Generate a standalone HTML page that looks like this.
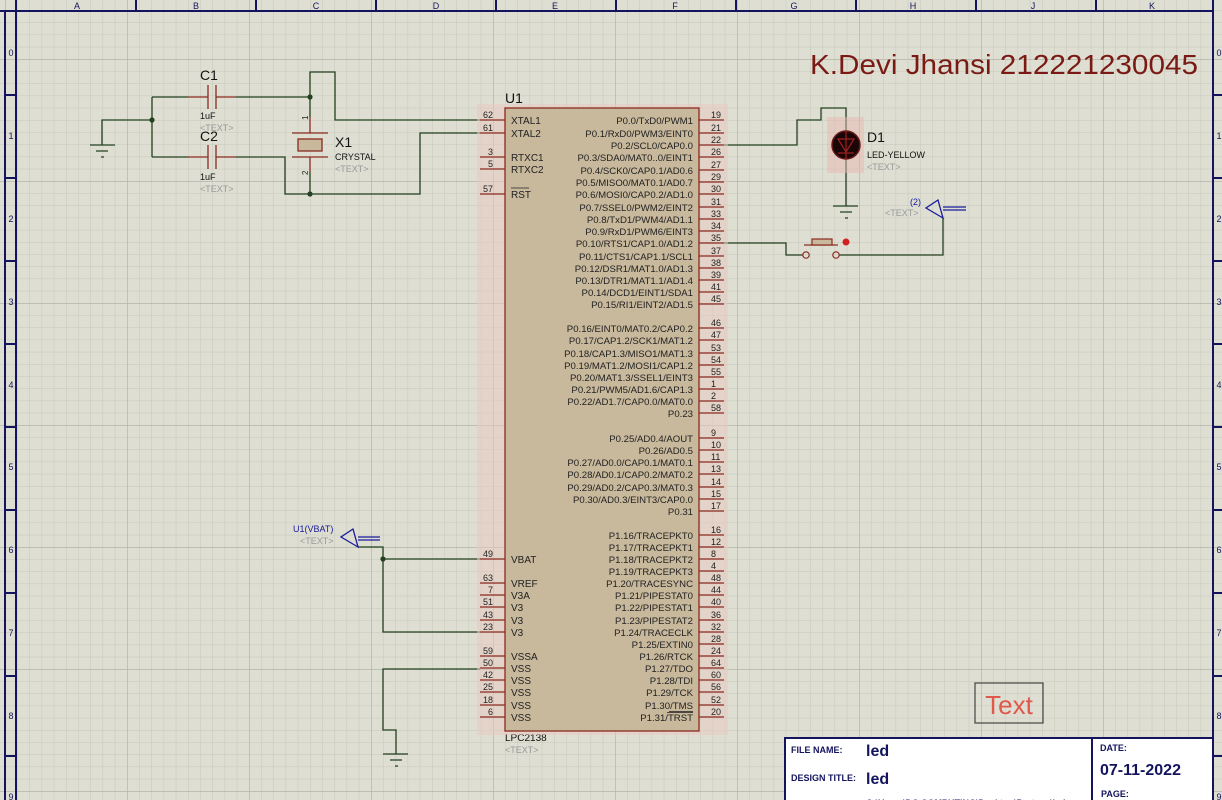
<!DOCTYPE html>
<html><head><meta charset="utf-8"><style>
html,body{margin:0;padding:0;background:#dedfd2;}
svg{display:block;font-family:"Liberation Sans",Arial,sans-serif;}
</style></head><body>
<svg width="1222" height="800" viewBox="0 0 1222 800" xmlns="http://www.w3.org/2000/svg">
<defs>
<pattern id="gmin" x="5" y="10.2" width="12.2" height="12.2" patternUnits="userSpaceOnUse">
<path d="M0 0H12.2M0 0V12.2" stroke="#c6c7bb" stroke-width="1" fill="none"/>
</pattern>
<pattern id="gmaj" x="5" y="59" width="122" height="122" patternUnits="userSpaceOnUse">
<path d="M0 0H122M0 0V122" stroke="#b4b5a9" stroke-width="1.4" fill="none"/>
</pattern>
</defs>
<rect width="1222" height="800" fill="#dedfd2"/>
<rect width="1222" height="800" fill="url(#gmin)"/>
<rect width="1222" height="800" fill="url(#gmaj)"/>

<!-- frame -->
<g stroke="#14145e" stroke-width="2" fill="none">
<line x1="0" y1="11" x2="1214" y2="11"/>
<line x1="5" y1="11" x2="5" y2="800"/>
<line x1="16" y1="11" x2="16" y2="800"/>
<line x1="1213" y1="0" x2="1213" y2="800"/>
<line x1="16" y1="0" x2="16" y2="11"/><line x1="136" y1="0" x2="136" y2="11"/><line x1="256" y1="0" x2="256" y2="11"/><line x1="376" y1="0" x2="376" y2="11"/><line x1="496" y1="0" x2="496" y2="11"/><line x1="616" y1="0" x2="616" y2="11"/><line x1="736" y1="0" x2="736" y2="11"/><line x1="856" y1="0" x2="856" y2="11"/><line x1="976" y1="0" x2="976" y2="11"/><line x1="1096" y1="0" x2="1096" y2="11"/>
<path d="M5 95H16M5 178H16M5 261H16M5 344H16M5 427H16M5 510H16M5 593H16M5 676H16M5 756H16"/>
<path d="M1213 95H1222M1213 178H1222M1213 261H1222M1213 344H1222M1213 427H1222M1213 510H1222M1213 593H1222M1213 676H1222M1213 756H1222"/>
</g>
<g fill="#14145e" font-size="9" text-anchor="middle">
<text x="77" y="9">A</text><text x="196" y="9">B</text><text x="316" y="9">C</text><text x="436" y="9">D</text><text x="555" y="9">E</text><text x="675" y="9">F</text><text x="794" y="9">G</text><text x="913" y="9">H</text><text x="1033" y="9">J</text><text x="1152" y="9">K</text>
<text x="11" y="56">0</text><text x="11" y="139">1</text><text x="11" y="222">2</text><text x="11" y="305">3</text><text x="11" y="388">4</text><text x="11" y="470">5</text><text x="11" y="553">6</text><text x="11" y="636">7</text><text x="11" y="719">8</text><text x="11" y="800">9</text>
<text x="1219" y="56">0</text><text x="1219" y="139">1</text><text x="1219" y="222">2</text><text x="1219" y="305">3</text><text x="1219" y="388">4</text><text x="1219" y="470">5</text><text x="1219" y="553">6</text><text x="1219" y="636">7</text><text x="1219" y="719">8</text><text x="1219" y="800">9</text>
</g>

<!-- title -->
<text x="810" y="74" font-size="28" fill="#7a1a14" textLength="388" lengthAdjust="spacingAndGlyphs">K.Devi Jhansi 212221230045</text>

<!-- wires -->
<g stroke="#234020" stroke-width="1.3" fill="none">
<path d="M102 145V120H152"/>
<path d="M152 97V157"/>
<path d="M152 97H188M236 97H310"/>
<path d="M152 157H188M236 157H285V194H420V133H480"/>
<path d="M310 97V72H335V120H480"/>
<path d="M310 97V117M310 172V194"/>
<path d="M724 145H797V120H821V108H846V131M846 159V206"/>
<path d="M724 243H786V255H803M839 255H943V218"/>
<path d="M358 547H383V632H480M383 559H480"/>
<path d="M480 669H383V730H396V754"/>
</g>
<g fill="#234020">
<circle cx="152" cy="120" r="2.6"/><circle cx="310" cy="97" r="2.6"/><circle cx="310" cy="194" r="2.6"/><circle cx="383" cy="559" r="2.6"/>
</g>
<!-- grounds -->
<g stroke="#234020" stroke-width="1.3">
<path d="M90 145H115M96 151H108M101 157H104"/>
<path d="M833 206H858M840 212H852M845 218H848"/>
<path d="M383 754H408M390 760H402M395 766H398"/>
</g>

<!-- capacitors -->
<g stroke="#8b2a20" stroke-width="1.3" fill="none">
<path d="M188 97H208M208 85V109M216 85V109M216 97H236"/>
<path d="M188 157H208M208 145V169M216 145V169M216 157H236"/>
<path d="M310 117V133M292 133H328M292 157H328M310 157V172"/>
</g>
<rect x="298" y="139" width="24" height="12" fill="#c8b89c" stroke="#8b2a20" stroke-width="1.3"/>
<g font-size="8" fill="#222"><text transform="translate(308,120) rotate(-90)">1</text><text transform="translate(308,175) rotate(-90)">2</text></g>
<g fill="#111">
<text x="200" y="80" font-size="14">C1</text><text x="200" y="119" font-size="9">1uF</text>
<text x="200" y="141" font-size="14">C2</text><text x="200" y="180" font-size="9">1uF</text>
<text x="335" y="147" font-size="14">X1</text><text x="335" y="160" font-size="9">CRYSTAL</text>
<text x="867" y="142" font-size="14">D1</text><text x="867" y="158" font-size="9">LED-YELLOW</text>
<text x="505" y="103" font-size="14">U1</text><text x="505" y="741" font-size="10">LPC2138</text>
</g>
<g fill="#999" font-size="9">
<text x="200" y="131">&lt;TEXT&gt;</text><text x="200" y="192">&lt;TEXT&gt;</text><text x="335" y="172">&lt;TEXT&gt;</text>
<text x="867" y="170">&lt;TEXT&gt;</text><text x="885" y="216">&lt;TEXT&gt;</text><text x="300" y="544">&lt;TEXT&gt;</text><text x="505" y="753">&lt;TEXT&gt;</text>
</g>

<!-- LED -->
<rect x="827" y="117" width="37" height="56" fill="#e8b8b0" opacity="0.5"/>
<circle cx="846" cy="145" r="14" fill="#1a0606" stroke="#6a1a1a" stroke-width="1.5"/>
<path d="M838 139H854L846 152Z M838 153H854 M846 131V159" stroke="#a02020" stroke-width="1.2" fill="none"/>

<!-- switch -->
<g stroke="#8b2a20" stroke-width="1.2" fill="none">
<circle cx="806" cy="255" r="3.2"/><circle cx="836" cy="255" r="3.2"/>
<path d="M804 245H838"/><rect x="812" y="239" width="20" height="6" fill="#c8b89c"/>
</g>
<circle cx="846" cy="242" r="3.5" fill="#d02020"/>

<!-- terminals -->
<g stroke="#1a1a9a" stroke-width="1.3" fill="none">
<path d="M943 218L926 208L938 200Z M943 207H966M943 210H966"/>
<path d="M358 547L341 537L353 529Z M358 537H380M358 540H380"/>
</g>
<text x="910" y="205" font-size="9" fill="#1a1a9a">(2)</text>
<text x="293" y="532" font-size="9" fill="#1a1a9a">U1(VBAT)</text>

<!-- chip -->
<rect x="477" y="104" width="251" height="631" fill="#e8c8c0" opacity="0.55"/>
<rect x="505" y="108" width="194" height="623" fill="#c8b89c" stroke="#8b2a20" stroke-width="1.3"/>
<g stroke="#8b2a20" stroke-width="1.2">
<path d="M480 120H505M480 133H505M480 157H505M480 169H505M480 194H505M480 559H505M480 583H505M480 595H505M480 607H505M480 620H505M480 632H505M480 656H505M480 668H505M480 680H505M480 692H505M480 705H505M480 717H505"/>
<path d="M699 120H724M699 133H724M699 145H724M699 157H724M699 170H724M699 182H724M699 194H724M699 207H724M699 219H724M699 231H724M699 243H724M699 256H724M699 268H724M699 280H724M699 292H724M699 304H724"/>
<path d="M699 328H724M699 340H724M699 353H724M699 365H724M699 377H724M699 389H724M699 401H724M699 413H724"/>
<path d="M699 438H724M699 450H724M699 462H724M699 474H724M699 487H724M699 499H724M699 511H724"/>
<path d="M699 535H724M699 547H724M699 559H724M699 571H724M699 583H724M699 595H724M699 607H724M699 620H724M699 632H724M699 644H724M699 656H724M699 668H724M699 680H724M699 692H724M699 705H724M699 717H724"/>
</g>
<g font-size="10" fill="#222">
<text x="511" y="124">XTAL1</text><text x="511" y="137">XTAL2</text><text x="511" y="161">RTXC1</text><text x="511" y="173">RTXC2</text><text x="511" y="198">RST</text>
<text x="511" y="563">VBAT</text><text x="511" y="587">VREF</text><text x="511" y="599">V3A</text><text x="511" y="611">V3</text><text x="511" y="624">V3</text><text x="511" y="636">V3</text>
<text x="511" y="660">VSSA</text><text x="511" y="672">VSS</text><text x="511" y="684">VSS</text><text x="511" y="696">VSS</text><text x="511" y="709">VSS</text><text x="511" y="721">VSS</text>
</g>
<path d="M511 188H529" stroke="#222" stroke-width="0.8"/>
<g font-size="9" fill="#222" text-anchor="end">
<text x="493" y="118">62</text><text x="493" y="131">61</text><text x="493" y="155">3</text><text x="493" y="167">5</text><text x="493" y="192">57</text>
<text x="493" y="557">49</text><text x="493" y="581">63</text><text x="493" y="593">7</text><text x="493" y="605">51</text><text x="493" y="618">43</text><text x="493" y="630">23</text>
<text x="493" y="654">59</text><text x="493" y="666">50</text><text x="493" y="678">42</text><text x="493" y="690">25</text><text x="493" y="703">18</text><text x="493" y="715">6</text>
</g>
<g font-size="9.6" fill="#222" text-anchor="end">
<text x="693" y="124">P0.0/TxD0/PWM1</text><text x="693" y="137">P0.1/RxD0/PWM3/EINT0</text><text x="693" y="149">P0.2/SCL0/CAP0.0</text><text x="693" y="161">P0.3/SDA0/MAT0..0/EINT1</text><text x="693" y="174">P0.4/SCK0/CAP0.1/AD0.6</text><text x="693" y="186">P0.5/MISO0/MAT0.1/AD0.7</text><text x="693" y="198">P0.6/MOSI0/CAP0.2/AD1.0</text><text x="693" y="211">P0.7/SSEL0/PWM2/EINT2</text><text x="693" y="223">P0.8/TxD1/PWM4/AD1.1</text><text x="693" y="235">P0.9/RxD1/PWM6/EINT3</text><text x="693" y="247">P0.10/RTS1/CAP1.0/AD1.2</text><text x="693" y="260">P0.11/CTS1/CAP1.1/SCL1</text><text x="693" y="272">P0.12/DSR1/MAT1.0/AD1.3</text><text x="693" y="284">P0.13/DTR1/MAT1.1/AD1.4</text><text x="693" y="296">P0.14/DCD1/EINT1/SDA1</text><text x="693" y="308">P0.15/RI1/EINT2/AD1.5</text>
<text x="693" y="332">P0.16/EINT0/MAT0.2/CAP0.2</text><text x="693" y="344">P0.17/CAP1.2/SCK1/MAT1.2</text><text x="693" y="357">P0.18/CAP1.3/MISO1/MAT1.3</text><text x="693" y="369">P0.19/MAT1.2/MOSI1/CAP1.2</text><text x="693" y="381">P0.20/MAT1.3/SSEL1/EINT3</text><text x="693" y="393">P0.21/PWM5/AD1.6/CAP1.3</text><text x="693" y="405">P0.22/AD1.7/CAP0.0/MAT0.0</text><text x="693" y="417">P0.23</text>
<text x="693" y="442">P0.25/AD0.4/AOUT</text><text x="693" y="454">P0.26/AD0.5</text><text x="693" y="466">P0.27/AD0.0/CAP0.1/MAT0.1</text><text x="693" y="478">P0.28/AD0.1/CAP0.2/MAT0.2</text><text x="693" y="491">P0.29/AD0.2/CAP0.3/MAT0.3</text><text x="693" y="503">P0.30/AD0.3/EINT3/CAP0.0</text><text x="693" y="515">P0.31</text>
<text x="693" y="539">P1.16/TRACEPKT0</text><text x="693" y="551">P1.17/TRACEPKT1</text><text x="693" y="563">P1.18/TRACEPKT2</text><text x="693" y="575">P1.19/TRACEPKT3</text><text x="693" y="587">P1.20/TRACESYNC</text><text x="693" y="599">P1.21/PIPESTAT0</text><text x="693" y="611">P1.22/PIPESTAT1</text><text x="693" y="624">P1.23/PIPESTAT2</text><text x="693" y="636">P1.24/TRACECLK</text><text x="693" y="648">P1.25/EXTIN0</text><text x="693" y="660">P1.26/RTCK</text><text x="693" y="672">P1.27/TDO</text><text x="693" y="684">P1.28/TDI</text><text x="693" y="696">P1.29/TCK</text><text x="693" y="709">P1.30/TMS</text><text x="693" y="721">P1.31/TRST</text>
</g>
<path d="M669 711.5H693M667 712.5H693" stroke="#222" stroke-width="0.8"/>
<g font-size="9" fill="#222">
<text x="711" y="118">19</text><text x="711" y="131">21</text><text x="711" y="143">22</text><text x="711" y="155">26</text><text x="711" y="168">27</text><text x="711" y="180">29</text><text x="711" y="192">30</text><text x="711" y="205">31</text><text x="711" y="217">33</text><text x="711" y="229">34</text><text x="711" y="241">35</text><text x="711" y="254">37</text><text x="711" y="266">38</text><text x="711" y="278">39</text><text x="711" y="290">41</text><text x="711" y="302">45</text>
<text x="711" y="326">46</text><text x="711" y="338">47</text><text x="711" y="351">53</text><text x="711" y="363">54</text><text x="711" y="375">55</text><text x="711" y="387">1</text><text x="711" y="399">2</text><text x="711" y="411">58</text>
<text x="711" y="436">9</text><text x="711" y="448">10</text><text x="711" y="460">11</text><text x="711" y="472">13</text><text x="711" y="485">14</text><text x="711" y="497">15</text><text x="711" y="509">17</text>
<text x="711" y="533">16</text><text x="711" y="545">12</text><text x="711" y="557">8</text><text x="711" y="569">4</text><text x="711" y="581">48</text><text x="711" y="593">44</text><text x="711" y="605">40</text><text x="711" y="618">36</text><text x="711" y="630">32</text><text x="711" y="642">28</text><text x="711" y="654">24</text><text x="711" y="666">64</text><text x="711" y="678">60</text><text x="711" y="690">56</text><text x="711" y="703">52</text><text x="711" y="715">20</text>
</g>

<!-- Text box -->
<rect x="975" y="683" width="68" height="40" fill="none" stroke="#444" stroke-width="1.2"/>
<text x="1009" y="714" font-size="26" fill="#e0584c" text-anchor="middle">Text</text>

<!-- title block -->
<rect x="785" y="738" width="428" height="70" fill="#ffffff" stroke="#14145e" stroke-width="2"/>
<line x1="1092" y1="738" x2="1092" y2="800" stroke="#14145e" stroke-width="2"/>
<g fill="#14145e" font-weight="bold">
<text x="791" y="753" font-size="9">FILE NAME:</text>
<text x="866" y="756" font-size="16">led</text>
<text x="791" y="781" font-size="9">DESIGN TITLE:</text>
<text x="866" y="784" font-size="16">led</text>
<text x="1100" y="751" font-size="9">DATE:</text>
<text x="1100" y="775" font-size="16">07-11-2022</text>
<text x="1101" y="797" font-size="9">PAGE:</text>
<text x="866" y="806" font-size="9">C:\Users\DC COMPUTING\Desktop\Proteus\led</text>
</g>
</svg>
</body></html>
